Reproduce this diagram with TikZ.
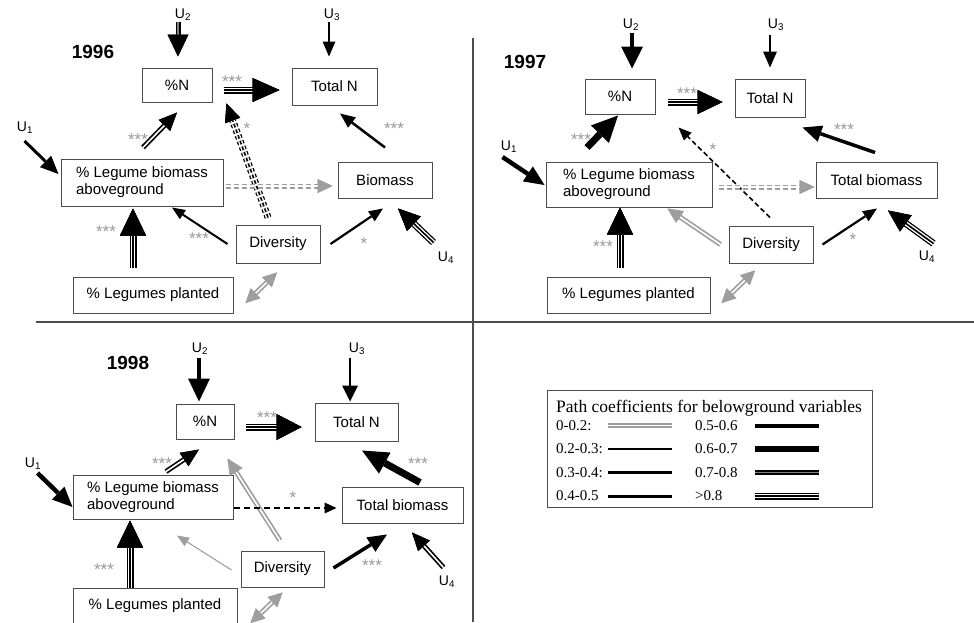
\documentclass[tikz,border=0pt]{standalone}
\usepackage{fontspec}
\setmainfont{Liberation Sans}
\newfontfamily\legfont{Liberation Serif}
\usetikzlibrary{arrows.meta,calc}

\definecolor{arrgray}{gray}{0.62}
\definecolor{stargray}{gray}{0.6}
\definecolor{framegray}{gray}{0.3}

\tikzset{
	box/.style={draw=framegray, line width=1pt, inner sep=0pt, font=\fontsize{15}{17}\selectfont},
	yr/.style={font=\fontsize{19}{19}\selectfont\bfseries, inner sep=0pt},
	ulab/.style={font=\fontsize{14}{14}\selectfont, inner sep=0pt},
	star/.style={text=stargray, font=\fontsize{17}{17}\selectfont, inner sep=0pt},
	legtext/.style={font=\legfont\fontsize{15}{17}\selectfont, inner sep=0pt, anchor=west},
	hd/.style 2 args={arrows={-Triangle[length=#1pt,width=#2pt,line width=0pt,color=black]}},
	ghd/.style 2 args={arrows={-Triangle[length=#1pt,width=#2pt,line width=0pt,color=arrgray]}},
	gboth/.style 2 args={arrows={Triangle[length=#1pt,width=#2pt,line width=0pt,color=arrgray]-Triangle[length=#1pt,width=#2pt,line width=0pt,color=arrgray]}}
}

% double line: outer, then core colour
\newcommand\dbl[4][white]{%
	\draw[#2,line width=5pt] #3 -- #4;
	\draw[#2,line width=1.6pt,#1] #3 -- #4;}
% triple line
\newcommand\tri[3]{%
	\draw[#1,line width=7pt] #2 -- #3;
	\draw[#1,line width=4.4pt,white] #2 -- #3;
	\draw[#1,line width=1.6pt] #2 -- #3;}

\begin{document}
\begin{tikzpicture}[x=1pt, y=-1pt]
\useasboundingbox (0,0) rectangle (974,622);

%% Paneles %%
\draw[framegray, line width=1.2pt] (473,38) -- (473,622) (36,322) -- (974,322);

%% 1996 %%
\node[yr] (y96) at (93,52) {1996};
\node[box, minimum width=70pt, minimum height=34pt] (n96) at (177,85) {\%N};
\node[box, minimum width=85pt, minimum height=37pt] (tn96) at (334.5,86.5) {Total N};
\node[box, minimum width=162pt, minimum height=47pt, align=left] (lb96) at (142,182.5) {\% Legume biomass\\aboveground};
\node[box, minimum width=94pt, minimum height=36pt] (bm96) at (385,180) {Biomass};
\node[box, minimum width=84pt, minimum height=38pt] (dv96) at (278,244) {Diversity};
\node[box, minimum width=160pt, minimum height=36pt] (lp96) at (153,295) {\% Legumes planted};
\node[ulab] (u96a) at (25,128) {U\textsubscript{1}};
\node[ulab] (u96b) at (183,15) {U\textsubscript{2}};
\node[ulab] (u96c) at (332,15) {U\textsubscript{3}};
\node[ulab] (u96d) at (446,258) {U\textsubscript{4}};

\dbl[gray]{hd={22}{21}}{($(n96.north)+(1,-46)$)}{($(n96.north)+(1,-11)$)}
\draw[line width=2.2pt, hd={15}{13}] ($(tn96.north)+(-5.5,-46)$) -- ($(tn96.north)+(-5.5,-11)$);
\tri{hd={27}{24}}{($(n96.east)+(11,5)$)}{($(tn96.west)+(-12,3.5)$)}
\draw[line width=3pt, hd={18}{16}] ($(lb96.west)+(-36,-41.5)$) -- ($(lb96.west)+(-2,-8.5)$);
\dbl{hd={18}{16}}{($(lb96.north)+(1,-11)$)}{($(n96.south)+(0,10)$)}
\tri{dash pattern=on 3.5pt off 2.5pt, hd={18}{16}}{($(dv96.north)+(-10,-7)$)}{($(n96.south east)+(14,1)$)}
\draw[line width=2.5pt, hd={15}{13}] ($(bm96.north)+(0,-14)$) -- ($(tn96.south)+(5.5,8)$);
\dbl{arrgray, dash pattern=on 5pt off 3pt, ghd={15}{14}}{($(lb96.east)+(2,3.5)$)}{($(bm96.west)+(-5,6)$)}
\tri{hd={27}{26}}{($(lp96.north)+(-20,-9)$)}{($(lb96.south)+(-9,2)$)}
\draw[line width=2pt, hd={13}{11}] ($(dv96.west)+(-8,0)$) -- ($(lb96.south)+(30,1)$);
\draw[line width=2.2pt, hd={14}{12}] ($(dv96.east)+(10,0)$) -- ($(bm96.south)+(-2,10)$);
\tri{hd={22}{20}}{($(bm96.south east)+(1,44)$)}{($(bm96.south)+(13,10)$)}
\dbl{arrgray, gboth={14}{14}}{($(lp96.east)+(12,8)$)}{($(dv96.south)+(-1,9)$)}

\node[star] (s96a) at (232,82) {***};
\node[star] (s96b) at (138,140) {***};
\node[star] (s96c) at (247,129) {*};
\node[star] (s96d) at (394,129) {***};
\node[star] (s96e) at (106,232) {***};
\node[star] (s96f) at (199,239) {***};
\node[star] (s96g) at (364,244) {*};

%% 1997 %%
\node[yr] (y97) at (525,62) {1997};
\node[box, minimum width=70pt, minimum height=35pt] (n97) at (620,96.5) {\%N};
\node[box, minimum width=70pt, minimum height=38pt] (tn97) at (770,98) {Total N};
\node[box, minimum width=166pt, minimum height=45pt, align=left] (lb97) at (629,184.5) {\% Legume biomass\\aboveground};
\node[box, minimum width=121pt, minimum height=36pt] (tb97) at (876.5,180) {Total biomass};
\node[box, minimum width=84pt, minimum height=37pt] (dv97) at (771,244.5) {Diversity};
\node[box, minimum width=163pt, minimum height=36pt] (lp97) at (628.5,295) {\% Legumes planted};
\node[ulab] (u97a) at (509,147) {U\textsubscript{1}};
\node[ulab] (u97b) at (631,25) {U\textsubscript{2}};
\node[ulab] (u97c) at (776,25) {U\textsubscript{3}};
\node[ulab] (u97d) at (927,257) {U\textsubscript{4}};

\draw[line width=4.5pt, hd={22}{22}] ($(n97.north)+(12,-46)$) -- ($(n97.north)+(12,-10)$);
\draw[line width=2.5pt, hd={16}{14}] ($(tn97.north)+(0,-44)$) -- ($(tn97.north)+(0,-11)$);
\tri{hd={25}{24}}{($(n97.east)+(12,5.5)$)}{($(tn97.west)+(-12,4)$)}
\draw[line width=7pt, hd={26}{25}] ($(lb97.north)+(-42,-14)$) -- ($(n97.south)+(-2,1)$);
\draw[line width=1.6pt, dash pattern=on 5pt off 3pt, hd={13}{11}] ($(dv97.north)+(-1,-8)$) -- ($(n97.south east)+(23,13)$);
\draw[line width=3.5pt, hd={19}{17}] ($(tb97.north)+(-1.5,-9)$) -- ($(tn97.south east)+(-3,10)$);
\draw[line width=4.5pt, hd={20}{18}] ($(lb97.west)+(-43,-27.5)$) -- ($(lb97.west)+(-1,0.5)$);
\dbl{arrgray, dash pattern=on 5pt off 3pt, ghd={15}{14}}{($(lb97.east)+(6,2.5)$)}{($(tb97.west)+(-1,7)$)}
\tri{hd={27}{26}}{($(lp97.north)+(-8.5,-9)$)}{($(lb97.south)+(-9,0)$)}
\dbl{arrgray, ghd={15}{14}}{($(dv97.west)+(-8,0)$)}{($(lb97.south east)+(-45,1)$)}
\draw[line width=2.2pt, hd={14}{12}] ($(dv97.east)+(9,0)$) -- ($(tb97.south)+(0.5,10)$);
\tri{hd={22}{20}}{($(tb97.south east)+(-4,45)$)}{($(tb97.south)+(11.5,12)$)}
\dbl{arrgray, gboth={14}{14}}{($(lp97.east)+(11,8)$)}{($(dv97.south)+(-16,7)$)}

\node[star] (s97a) at (687,94) {***};
\node[star] (s97b) at (581,140) {***};
\node[star] (s97c) at (713,150) {*};
\node[star] (s97d) at (844,130) {***};
\node[star] (s97e) at (603,247) {***};
\node[star] (s97f) at (853,240) {*};

%% 1998 %%
\node[yr] (y98) at (128,363) {1998};
\node[box, minimum width=58pt, minimum height=35pt] (n98) at (205,421.5) {\%N};
\node[box, minimum width=83pt, minimum height=38pt] (tn98) at (356.5,422) {Total N};
\node[box, minimum width=160pt, minimum height=44pt, align=left] (lb98) at (153,497) {\% Legume biomass\\aboveground};
\node[box, minimum width=121pt, minimum height=36pt] (tb98) at (402.5,505) {Total biomass};
\node[box, minimum width=83pt, minimum height=36pt] (dv98) at (282.5,569) {Diversity};
\node[box, minimum width=164pt, minimum height=36pt] (lp98) at (155,606) {\% Legumes planted};
\node[ulab] (u98a) at (33,464) {U\textsubscript{1}};
\node[ulab] (u98b) at (200,349) {U\textsubscript{2}};
\node[ulab] (u98c) at (357,349) {U\textsubscript{3}};
\node[ulab] (u98d) at (447,582) {U\textsubscript{4}};

\draw[line width=4pt, hd={23}{22}] ($(n98.north)+(-6,-46)$) -- ($(n98.north)+(-6,-2)$);
\draw[line width=2.2pt, hd={16}{16}] ($(tn98.north)+(-6.5,-45)$) -- ($(tn98.north)+(-6.5,-1)$);
\tri{hd={25}{26}}{($(n98.east)+(11,5.5)$)}{($(tn98.west)+(-13,5)$)}
\draw[line width=4.5pt, hd={20}{18}] ($(lb98.west)+(-35,-24)$) -- ($(lb98.west)+(0,10)$);
\dbl{hd={18}{16}}{($(lb98.north)+(13,-3)$)}{($(n98.south)+(-6,10)$)}
\dbl{arrgray, ghd={16}{15}}{($(dv98.north)+(-2.5,-10)$)}{($(n98.south east)+(-7,19)$)}
\draw[line width=7pt, hd={26}{24}] ($(tb98.north)+(17.5,-4)$) -- ($(tn98.south)+(5.5,9)$);
\draw[line width=2pt, dash pattern=on 6pt off 4pt, hd={12}{11}] ($(lb98.east)+(0,11)$) -- ($(tb98.west)+(-5,3)$);
\draw[arrgray, line width=1.1pt, ghd={12}{10}] ($(dv98.west)+(-9,1)$) -- ($(lb98.south)+(24,16)$);
\tri{hd={27}{26}}{($(lp98.north)+(-25,0)$)}{($(lb98.south)+(-23,1)$)}
\draw[line width=3.5pt, hd={19}{17}] ($(dv98.east)+(9,-1)$) -- ($(tb98.south)+(-15.5,11)$);
\dbl{hd={18}{16}}{($(tb98.south east)+(-20,44)$)}{($(tb98.south)+(9.5,9)$)}
\dbl{arrgray, gboth={14}{14}}{($(lp98.east)+(13,17)$)}{($(dv98.south)+(0,5)$)}

\node[star] (s98a) at (267,418) {***};
\node[star] (s98b) at (162,464) {***};
\node[star] (s98c) at (418,464) {***};
\node[star] (s98d) at (293,498) {*};
\node[star] (s98e) at (104,570) {***};
\node[star] (s98f) at (372,566) {***};

%% Leyenda %%
\node[draw=framegray, line width=1pt, inner sep=0pt, minimum width=325pt, minimum height=117pt] (leg) at (709.5,448.5) {};
\node[legtext, font=\legfont\fontsize{17.5}{19}\selectfont] (legt) at (556,408) {Path coefficients for belowground variables};
\foreach \i/\y/\ca/\cb in {1/425.5/0-0.2:/0.5-0.6, 2/449/0.2-0.3:/0.6-0.7, 3/472.5/0.3-0.4:/0.7-0.8, 4/496/0.4-0.5/>0.8}
{
	\node[legtext] (la\i) at (556,\y) {\ca};
	\node[legtext] (lc\i) at (695,\y) {\cb};
}
\dbl{arrgray}{(608,425.5)}{(672,425.5)}
\draw[line width=1.2pt] (608,449) -- (672,449);
\draw[line width=2.2pt] (608,472.5) -- (672,472.5);
\draw[line width=3pt] (608,496) -- (672,496);
\draw[line width=4pt] (755,425.5) -- (819,425.5);
\draw[line width=6pt] (755,449) -- (819,449);
\dbl[gray]{}{(755,472.5)}{(819,472.5)}
\tri{}{(755,496)}{(819,496)}
\end{tikzpicture}
\end{document}
